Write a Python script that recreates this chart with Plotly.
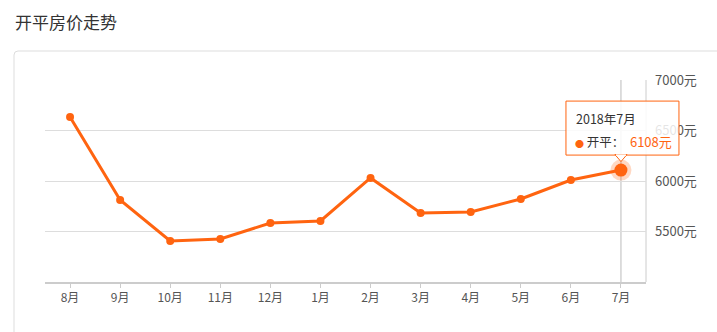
import plotly.graph_objects as go

months = ["8月", "9月", "10月", "11月", "12月", "1月", "2月", "3月", "4月", "5月", "6月", "7月"]
prices = [6634, 5812, 5406, 5426, 5584, 5604, 6030, 5683, 5693, 5822, 6010, 6108]
y_ticks = [5500, 6000, 6500, 7000]
y_range = [5000, 7000]
title_text = "开平房价走势"
series_name = "开平"
tip_label = "2018年7月"

ORANGE = "#ff6410"
W, H = 717, 332
L, R, T, B = 45, 71, 80, 50
PW, PH = W - L - R, H - T - B

def px(x):
    return (x - L) / PW

def py(y):
    return (H - B - y) / PH

fig = go.Figure()

fig.add_trace(go.Scatter(
    x=months, y=prices, mode="lines+markers",
    line=dict(color=ORANGE, width=3),
    marker=dict(color=ORANGE, size=8),
    hoverinfo="skip", showlegend=False, cliponaxis=False,
))
fig.add_trace(go.Scatter(
    x=months[-1:], y=prices[-1:], mode="markers",
    marker=dict(color="rgba(255,100,16,0.25)", size=21),
    hoverinfo="skip", showlegend=False, cliponaxis=False,
))
fig.add_trace(go.Scatter(
    x=months[-1:], y=prices[-1:], mode="markers",
    marker=dict(color=ORANGE, size=13),
    hoverinfo="skip", showlegend=False, cliponaxis=False,
))

# anchor of the highlighted point in paper coordinates (derived from data)
ax = (len(months) - 1 + 0.5) / len(months)
ay = (prices[-1] - y_range[0]) / (y_range[1] - y_range[0])

shapes = []
r = 4
shapes.append(dict(
    type="path", xref="paper", yref="paper", layer="below",
    path=f"M {px(14)},{py(360)} L {px(14)},{py(51 + r)} Q {px(14)},{py(51)} {px(14 + r)},{py(51)} L {px(740)},{py(51)}",
    line=dict(color="#dddddd", width=1),
))
shapes.append(dict(type="line", xref="paper", yref="paper", x0=1, x1=1, y0=0, y1=1,
                   line=dict(color="#cccccc", width=1), layer="below"))
shapes.append(dict(type="line", xref="x", yref="paper", x0=months[-1], x1=months[-1], y0=0, y1=1,
                   line=dict(color="#bbbbbb", width=1), layer="below"))
tip = dict(xref="paper", yref="paper", xsizemode="pixel", ysizemode="pixel", xanchor=ax, yanchor=ay)
shapes.append(dict(type="rect", **tip, x0=-55, x1=58, y0=15, y1=69,
                   line=dict(color=ORANGE, width=1), fillcolor="rgba(255,255,255,0.85)", layer="above"))
shapes.append(dict(type="path", **tip, path="M -6,15.5 L 0,8.5 L 6,15.5 Z",
                   line=dict(color=ORANGE, width=1), fillcolor="white", layer="above"))
shapes.append(dict(type="line", **tip, x0=-5, x1=5, y0=15, y1=15,
                   line=dict(color="white", width=1.5), layer="above"))

FONT = "Noto Sans CJK SC"
annotations = [
    dict(text=title_text, xref="paper", yref="paper", x=px(13), y=py(22), xanchor="left", yanchor="middle",
         showarrow=False, font=dict(size=17, color="#333333", family=FONT)),
    dict(text=tip_label, xref="paper", yref="paper", x=ax, y=ay, xanchor="left", yanchor="middle",
         xshift=-47, yshift=52, showarrow=False, font=dict(size=12.5, color="#333333", family=FONT)),
    dict(text=f"<span style='color:{ORANGE};font-size:9px'>●</span> {series_name}：  <span style='color:{ORANGE};font-size:13px'>{prices[-1]}元</span>",
         xref="paper", yref="paper", x=ax, y=ay, xanchor="left", yanchor="middle",
         xshift=-48, yshift=29, showarrow=False, font=dict(size=12.5, color="#333333", family=FONT)),
]

fig.update_layout(
    width=W, height=H,
    margin=dict(l=L, r=R, t=T, b=B),
    paper_bgcolor="white", plot_bgcolor="white",
    shapes=shapes, annotations=annotations,
    font=dict(family=FONT, size=12, color="#555555"),
    xaxis=dict(
        type="category", range=[-0.5, len(months) - 0.5],
        showgrid=False, showline=True, linecolor="#cccccc", linewidth=2,
        ticks="outside", ticklen=4, tickcolor="#cccccc", tickwidth=1,
        tickfont=dict(size=12, color="#555555"), fixedrange=True,
    ),
    yaxis=dict(
        side="right", range=y_range, tickvals=y_ticks,
        ticktext=[f"{v}元" for v in y_ticks],
        showgrid=True, gridcolor="#dddddd", gridwidth=1,
        showline=False, zeroline=False, ticks="", ticklabelstandoff=8,
        tickfont=dict(size=13, color="#555555"), fixedrange=True,
    ),
    hovermode=False,
)

fig.write_html("out.html")
